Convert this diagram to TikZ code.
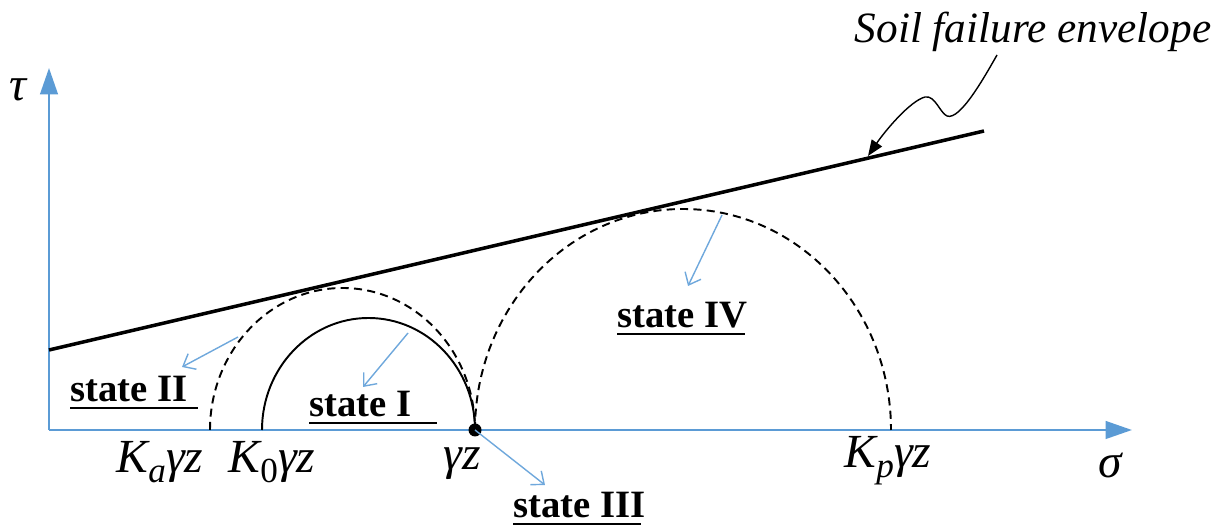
\documentclass[tikz,border=0pt]{standalone}
\usepackage{fontspec}
\setmainfont{Liberation Serif}
\usetikzlibrary{arrows.meta}
\definecolor{axisblue}{HTML}{5B9BD5}
\definecolor{noteblue}{HTML}{6FA8DC}
\newcommand{\statelab}[4]{\node[statetxt,anchor=base west] (#1) at (#2,#3) {#4};\draw[line width=0.6pt] (#2,#3-6)--(#2+128,#3-6);}
\newcommand{\lowsub}[1]{\raisebox{-0.45ex}{\fontsize{10}{11}\selectfont#1}}
\begin{document}
\begin{tikzpicture}[x=0.01cm,y=0.01cm,
  axis/.style={axisblue,line width=0.7pt,-{Triangle[length=7.5pt,width=5pt]}},
  note/.style={noteblue,line width=0.4pt,-{Straight Barb[length=3pt,width=5pt]}},
  mohr/.style={line width=0.55pt},
  dsh/.style={dash pattern=on 2.3pt off 1.5pt},
  statetxt/.style={font=\fontsize{11}{13}\selectfont\bfseries,inner sep=0pt},
  lab/.style={font=\fontsize{13.5}{15}\selectfont\itshape,inner sep=0pt,anchor=base}]
\useasboundingbox (0,0) rectangle (1228,531);
% axes
\coordinate (O) at (49,101);\coordinate (tauend) at (49,463);\coordinate (sigend) at (1132,101);
\draw[axis] (O)--(tauend);\draw[axis] (O)--(sigend);
\node[lab,anchor=center] (tau) at (18,441) {τ};\node[lab,anchor=center] (sigma) at (1110,66) {σ};
% Mohr circles
\draw[mohr,dsh] (210,101) arc[start angle=180,end angle=0,x radius=132.5,y radius=142];
\draw[mohr] (262,101) arc[start angle=180,end angle=0,x radius=106.5,y radius=112];
\draw[mohr,dsh] (475,101) arc[start angle=180,end angle=0,x radius=208,y radius=221];
\coordinate (gz) at (475,101);\fill (gz) circle[radius=6.5];
% envelope
\coordinate (e0) at (49,181);\coordinate (e1) at (984,400);
\draw[line width=1pt] (e0)--(e1);
\node[font=\fontsize{12.3}{14}\selectfont\itshape,inner sep=0pt] (env) at (1033,499) {Soil failure envelope};
\coordinate (c0) at (997,476);\coordinate (tip) at (868,375);
\draw[line width=0.4pt,-{Triangle[length=4.5pt,width=3.5pt]}] (c0) .. controls (985,455) and (960,410) .. (947,415) .. controls (940,418) and (935,436) .. (925,434) .. controls (910,430) and (885,400) .. (tip);
% stress labels
\node[lab] (ka) at (160,58) {K\lowsub{a}γz};
\node[lab] (k0) at (272,58) {K\lowsub{\upshape 0}γz};
\node[lab] (g) at (462,61) {γz};
\node[lab] (kp) at (888,63) {K\lowsub{p}γz};
% states
\statelab{s2}{70}{129}{state II}
\statelab{s1}{309}{114}{state I}
\statelab{s4}{617}{203}{state IV}
\statelab{s3}{513}{13}{state III}
\coordinate (p2) at (238,194);\coordinate (q2) at (182,164);\draw[note] (p2)--(q2);
\coordinate (p1) at (408,198);\coordinate (q1) at (363,144);\draw[note] (p1)--(q1);
\coordinate (p4) at (722,316);\coordinate (q4) at (688,245);\draw[note] (p4)--(q4);
\coordinate (q3) at (545,46);\draw[note] (gz)--(q3);
\end{tikzpicture}
\end{document}
